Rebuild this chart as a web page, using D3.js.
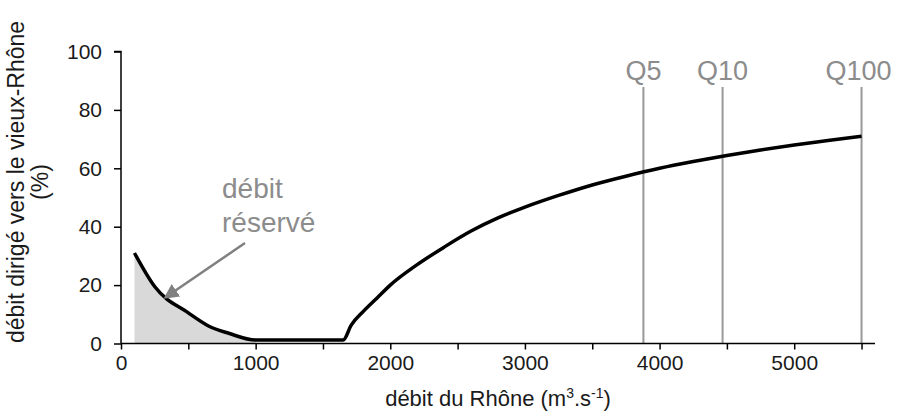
<!DOCTYPE html>
<html><head><meta charset="utf-8">
<script src="https://cdn.jsdelivr.net/npm/d3@7"></script>
<style>body{margin:0;background:#fff}svg{display:block;font-family:"Liberation Sans",Arial,sans-serif}</style>
</head><body><svg id="c" width="902" height="414"></svg>
<script>
// Data
const flowX = [100, 250, 500, 650, 800, 1000, 1650, 1710, 1800, 1900, 2000, 2200, 2400, 2600, 2800, 3000, 3250, 3500, 3750, 4000, 4250, 4500, 4750, 5000, 5250, 5500];
const pctY  = [31, 19.5, 10.5, 6, 3.5, 1.2, 1.2, 6.3, 11, 15.5, 20, 27, 33, 38.5, 43, 46.7, 50.7, 54.3, 57.3, 60, 62.3, 64.4, 66.3, 68, 69.5, 71];
const reservedCount = 6; // first points form the shaded "débit réservé" zone
const qNames = ["Q5", "Q10", "Q100"];
const qValues = [3880, 4468, 5500];
const xTicks = [0, 1000, 2000, 3000, 4000, 5000];
const xMinorTicks = [500, 1500, 2500, 3500, 4500, 5500];
const yTicks = [0, 20, 40, 60, 80, 100];

const svg = d3.select("#c");
const x = d3.scaleLinear().domain([0, 5600]).range([121, 875]);
const y = d3.scaleLinear().domain([0, 100]).range([343.5, 51.5]);
const pts = flowX.map((v, i) => [v, pctY[i]]);

// shaded area
svg.append("path")
  .datum(pts.slice(0, reservedCount))
  .attr("d", d3.area().x(d => x(d[0])).y0(y(0)).y1(d => y(d[1])))
  .attr("fill", "#d9d9d9");

// Q lines
const qg = svg.append("g");
qValues.forEach((q, i) => {
  qg.append("line").attr("x1", x(q)).attr("x2", x(q)).attr("y1", 87).attr("y2", y(0))
    .attr("stroke", "#999").attr("stroke-width", 2);
  qg.append("text").attr("x", x(q) - (i === 2 ? 3 : 0)).attr("y", 80).attr("text-anchor", "middle")
    .attr("font-size", 27).attr("fill", "#8c8c8c").text(qNames[i]);
});

// axes
const xAxis = svg.append("g").attr("transform", `translate(0,${y(0)})`)
  .call(d3.axisBottom(x).tickValues(xTicks).tickSize(6).tickPadding(6).tickFormat(d3.format("d")));
const xMinor = svg.append("g").attr("transform", `translate(0,${y(0)})`)
  .call(d3.axisBottom(x).tickValues(xMinorTicks).tickSize(6).tickFormat(""));
xMinor.select(".domain").remove();
const yAxis = svg.append("g").attr("transform", `translate(${x(0)},0)`)
  .call(d3.axisLeft(y).tickValues(yTicks).tickSize(7).tickPadding(12));
[xAxis, xMinor, yAxis].forEach(g => {
  g.selectAll("path,line").attr("stroke", "#000").attr("stroke-width", 1.5);
  g.selectAll("text").attr("font-size", 21).attr("fill", "#1a1a1a").attr("font-family", "Liberation Sans, Arial, sans-serif");
});
xAxis.select(".domain").attr("d", `M${x(0)},0H${x(5600)}`);
yAxis.select(".domain").attr("d", `M-7,${y(100)}H0V${y(0)}`);

// curve
svg.append("path").datum(pts)
  .attr("d", d3.line().x(d => x(d[0])).y(d => y(d[1])).curve(d3.curveMonotoneX))
  .attr("fill", "none").attr("stroke", "#000").attr("stroke-width", 3.5).attr("stroke-linejoin", "round");

// annotation
svg.append("defs").append("marker").attr("id", "ah").attr("viewBox", "0 0 10 10")
  .attr("refX", 8).attr("refY", 5).attr("markerWidth", 6).attr("markerHeight", 6).attr("orient", "auto")
  .append("path").attr("d", "M0,0L10,5L0,10z").attr("fill", "#808080");
svg.append("line").attr("x1", 245).attr("y1", 243).attr("x2", 166).attr("y2", 297)
  .attr("stroke", "#808080").attr("stroke-width", 2.5).attr("marker-end", "url(#ah)");
svg.append("text").attr("x", 222).attr("y", 198).attr("font-size", 28).attr("fill", "#8c8c8c").text("débit");
svg.append("text").attr("x", 222).attr("y", 232).attr("font-size", 28).attr("fill", "#8c8c8c").text("réservé");

// axis titles
const xt = svg.append("text").attr("x", 498).attr("y", 406).attr("text-anchor", "middle")
  .attr("font-size", 22).attr("fill", "#1a1a1a");
xt.append("tspan").text("débit du Rhône (m");
xt.append("tspan").attr("font-size", 14).attr("dy", -8).text("3");
xt.append("tspan").attr("dy", 8).text(".s");
xt.append("tspan").attr("font-size", 14).attr("dy", -8).text("-1");
xt.append("tspan").attr("dy", 8).text(")");

const yt = svg.append("text").attr("transform", "translate(0,182) rotate(-90)")
  .attr("text-anchor", "middle").attr("font-size", 23).attr("fill", "#1a1a1a");
yt.append("tspan").attr("x", 0).attr("y", 24).text("débit dirigé vers le vieux-Rhône");
yt.append("tspan").attr("x", 0).attr("y", 48).text("(%)");
</script></body></html>
